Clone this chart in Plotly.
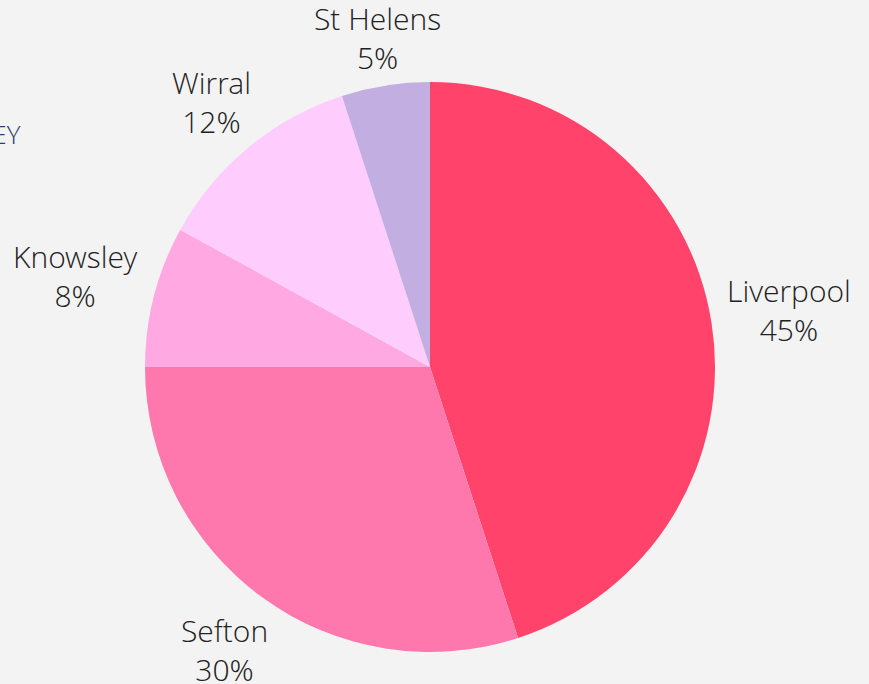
import math
import plotly.graph_objects as go

# Share of total by borough
boroughs = ["Liverpool", "Sefton", "Knowsley", "Wirral", "St Helens"]
shares = [45, 30, 8, 12, 5]
slice_colors = ["#ff436b", "#ff78ad", "#ffa8e1", "#ffcdfd", "#c3aee1"]

W, H = 869, 684
ML, MR, MT, MB = 145, 154, 82, 32
PW, PH = W - ML - MR, H - MT - MB          # square plotting area
CX, CY = ML + PW / 2, MT + PH / 2          # pie centre (pixels)
R = min(PW, PH) / 2                        # pie radius (pixels)

LABEL_SIZE = 30
LABEL_FONT = dict(family="Open Sans Light, Open Sans", size=LABEL_SIZE,
                  color="#222222", weight=300)

# Rough advance widths (em) for Open Sans Light, used to size label boxes
GLYPH_EM = {"i": .22, "l": .22, "j": .22, "r": .35, "t": .33, "f": .33, " ": .26,
            "s": .45, "v": .49, "y": .49, "L": .49, "w": .76, "W": .9, "m": .9,
            "%": .8, "H": .72, "K": .56, "S": .53}


def text_width(s, size):
    return size * sum(GLYPH_EM.get(c, .57) for c in s)


fig = go.Figure(
    go.Pie(
        labels=boroughs,
        values=shares,
        sort=False,
        direction="clockwise",
        rotation=0,
        textinfo="none",
        marker=dict(colors=slice_colors, line=dict(width=0)),
        showlegend=False,
        automargin=False,
        hoverinfo="label+percent",
    )
)

# Outside labels: placed just beyond the rim along each slice's mid-angle
total = sum(shares)
cum = 0
for name, val in zip(boroughs, shares):
    mid = (cum + val / 2) / total * 2 * math.pi
    cum += val
    ux, uy = math.sin(mid), -math.cos(mid)          # screen direction
    pct = f"{round(100 * val / total)}%"
    half_w = max(text_width(name, LABEL_SIZE), text_width(pct, LABEL_SIZE)) / 2
    half_h = LABEL_SIZE * (0.8 if uy < 0 else 1.0)
    dist = R + 15 + half_w * abs(ux) + half_h * abs(uy)
    px, py = CX + ux * dist, CY + uy * dist
    fig.add_annotation(
        text=f"{name}<br>{pct}",
        xref="paper", yref="paper",
        x=(px - ML) / PW, y=(MT + PH - py) / PH,
        xanchor="center", yanchor="middle", align="center",
        showarrow=False,
        font=LABEL_FONT,
    )

# Heading sitting partly beyond the left edge of the page
fig.add_annotation(
    text="SURVEY",
    xref="paper", yref="paper",
    x=(23 - ML) / PW, y=(MT + PH - 134) / PH,
    xanchor="right", yanchor="middle",
    showarrow=False,
    font=dict(family="Open Sans Light, Open Sans", size=26, color="#2b4170", weight=300),
)

fig.update_layout(
    width=W, height=H,
    margin=dict(l=ML, r=MR, t=MT, b=MB),
    paper_bgcolor="#f3f3f3",
    plot_bgcolor="#f3f3f3",
)

fig.write_html("out.html")
